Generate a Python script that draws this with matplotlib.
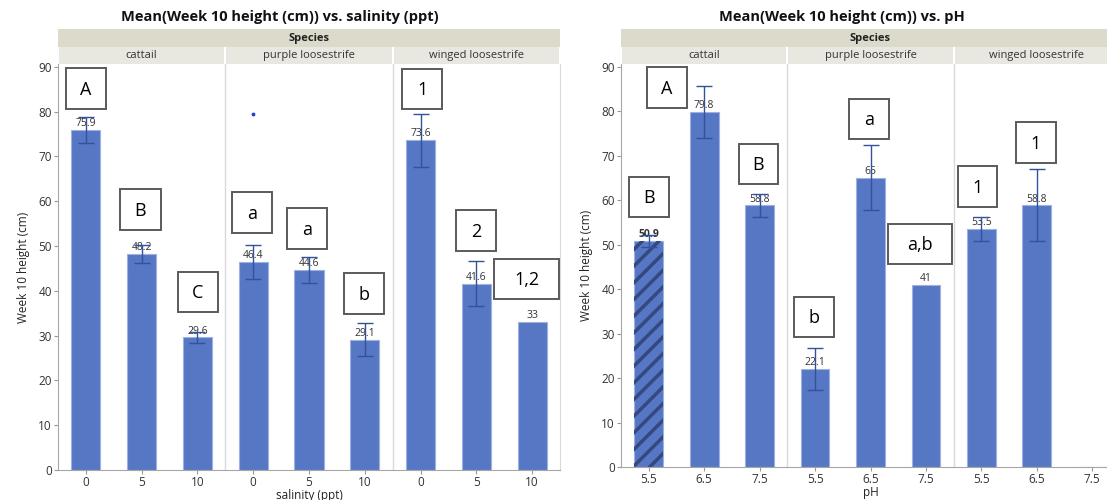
import numpy as np
import matplotlib.pyplot as plt
from matplotlib.patches import Rectangle

plt.rcParams['font.family'] = ['Open Sans', 'DejaVu Sans']
plt.rcParams['hatch.linewidth'] = 2.5

species = ['cattail', 'purple loosestrife', 'winged loosestrife']

# salinity experiment (mean +/- std error, Week 10 height in cm)
salinity_levels = ['0', '5', '10']
salinity_means = [75.9, 48.2, 29.6, 46.4, 44.6, 29.1, 73.6, 41.6, 33.0]
salinity_err = [2.9, 2.0, 1.2, 3.7, 2.9, 3.6, 5.9, 5.0, 0.0]
salinity_letters = ['A', 'B', 'C', 'a', 'a', 'b', '1', '2', '1,2']

# pH experiment (winged loosestrife at 7.5 has no data)
ph_levels = ['5.5', '6.5', '7.5']
ph_means = [50.9, 79.8, 58.8, 22.1, 65.0, 41.0, 53.5, 58.8, np.nan]
ph_err = [1.35, 5.85, 2.6, 4.7, 7.3, 0.0, 2.6, 8.1, 0.0]
ph_letters = ['B', 'A', 'B', 'b', 'a', 'a,b', '1', '1']

# stray point in the purple loosestrife cell
stray_x = [3.5]
stray_y = [79.4]

# where the letter boxes sit (x in bar slots, y in cm)
salinity_box_x = [0.50, 1.48, 2.51, 3.48, 4.47, 5.49, 6.53, 7.50, 8.40]
salinity_box_y = [85.1, 58.1, 39.7, 57.4, 53.9, 39.4, 85.0, 53.4, 42.6]
ph_box_x = [0.50, 0.83, 2.48, 3.48, 4.47, 5.39, 6.43, 7.48]
ph_box_y = [60.7, 85.3, 68.1, 33.7, 78.2, 50.1, 63.1, 72.9]

BAR = '#5677c4'
ERR = '#34519c'
W, H = 1107, 500


def px_axes(x0, y0, x1, y1):
    # axes from pixel box (top-left origin)
    return fig.add_axes([x0 / W, 1 - y1 / H, (x1 - x0) / W, (y1 - y0) / H])


def panel(x0, x1, y_top, y_bot, title, levels, means, err, letters, box_x, box_y, xlabel):
    ax = px_axes(x0, y_top, x1, y_bot)
    n = len(means)
    xs = np.arange(n) + 0.5
    heights = np.nan_to_num(means)
    bars = ax.bar(xs, heights, width=0.52, color=BAR, edgecolor='#9fb1e0', linewidth=0.8, zorder=2)
    for i in range(n):
        if np.isnan(means[i]):
            continue
        txt = '{:g}'.format(means[i])
        ax.annotate(txt, (xs[i], means[i]), xytext=(0, 0.5), textcoords='offset points',
                    ha='center', va='bottom', fontsize=7.5, color='#333333', zorder=3)
        if err[i] > 0:
            ax.errorbar(xs[i], means[i], yerr=err[i], color=ERR, lw=1, capsize=5.5,
                        capthick=1, zorder=4)
    for s in (3, 6):
        ax.axvline(s, color='#d9d9d9', lw=1, zorder=1)
    for lab, bx, by in zip(letters, box_x, box_y):
        bw = 0.72 if len(lab) == 1 else 1.15
        ax.add_patch(Rectangle((bx - bw / 2, by - 4.55), bw, 9.1, facecolor='white',
                               edgecolor='#5a5a5a', lw=1.4, zorder=5, clip_on=False))
        ax.text(bx, by - 0.3, lab, ha='center', va='center', fontsize=13, color='black',
                zorder=6, clip_on=False)
    ax.set_xlim(0, 9)
    ax.set_ylim(0, 90.6)
    ax.set_yticks(range(0, 91, 10))
    ax.set_xticks(xs)
    ax.set_xticklabels(levels * 3)
    ax.tick_params(labelsize=8.5, colors='#333333', length=3, color='#999999', pad=1.5)
    ax.spines['top'].set_visible(False)
    for side in ('left', 'bottom'):
        ax.spines[side].set_color('#a6a6a6')
    ax.spines['right'].set_color('#d9d9d9')
    ax.set_ylabel('Week 10 height (cm)', fontsize=8.5, color='#222222', labelpad=6)
    ax.set_xlabel(xlabel, fontsize=8.5, color='#222222', labelpad=0)

    # header bands: "Species" over the three species cells
    hdr = px_axes(x0, y_top - 35, x1, y_top)
    hdr.set_xlim(0, 9)
    hdr.set_ylim(0, 35)
    hdr.axis('off')
    hdr.add_patch(Rectangle((0, 17.5), 9, 17.5, facecolor='#dcdacb', edgecolor='none'))
    for k, name in enumerate(species):
        hdr.add_patch(Rectangle((k * 3 + 0.02, 0.5), 2.96, 16.5, facecolor='#e9e8e0',
                                edgecolor='none'))
        hdr.text(k * 3 + 1.5, 8.5, name, ha='center', va='center', fontsize=8,
                 color='#333333', clip_on=False)
    hdr.text(4.5, 26, 'Species', ha='center', va='center', fontsize=8, fontweight='bold',
             color='#222222')
    fig.text(((x0 - 58) + x1) / 2 / W, 1 - 17 / H, title, ha='center', va='center',
             fontsize=10.5, fontweight='bold', color='#111111')
    return ax, bars


fig = plt.figure(figsize=(W / 100, H / 100), dpi=100)

ax1, _ = panel(58, 560, 64, 470, 'Mean(Week 10 height (cm)) vs. salinity (ppt)',
               salinity_levels, salinity_means, salinity_err, salinity_letters,
               salinity_box_x, salinity_box_y, 'salinity (ppt)')
ax1.scatter(stray_x, stray_y, s=3, color='#1f3fd6', zorder=3)

ax2, bars2 = panel(621, 1120, 64, 467, 'Mean(Week 10 height (cm)) vs. pH',
                   ph_levels, ph_means, ph_err, ph_letters, ph_box_x, ph_box_y, 'pH')
# selected bar is drawn hatched
sel = bars2[0]
ax2.bar(sel.get_x() + sel.get_width() / 2, sel.get_height(), width=sel.get_width(),
        color='none', edgecolor='#34497f', hatch='//', linewidth=0, zorder=2.5)
ax2.texts[0].set_fontweight('bold')

fig.savefig('out.png', dpi=100)
